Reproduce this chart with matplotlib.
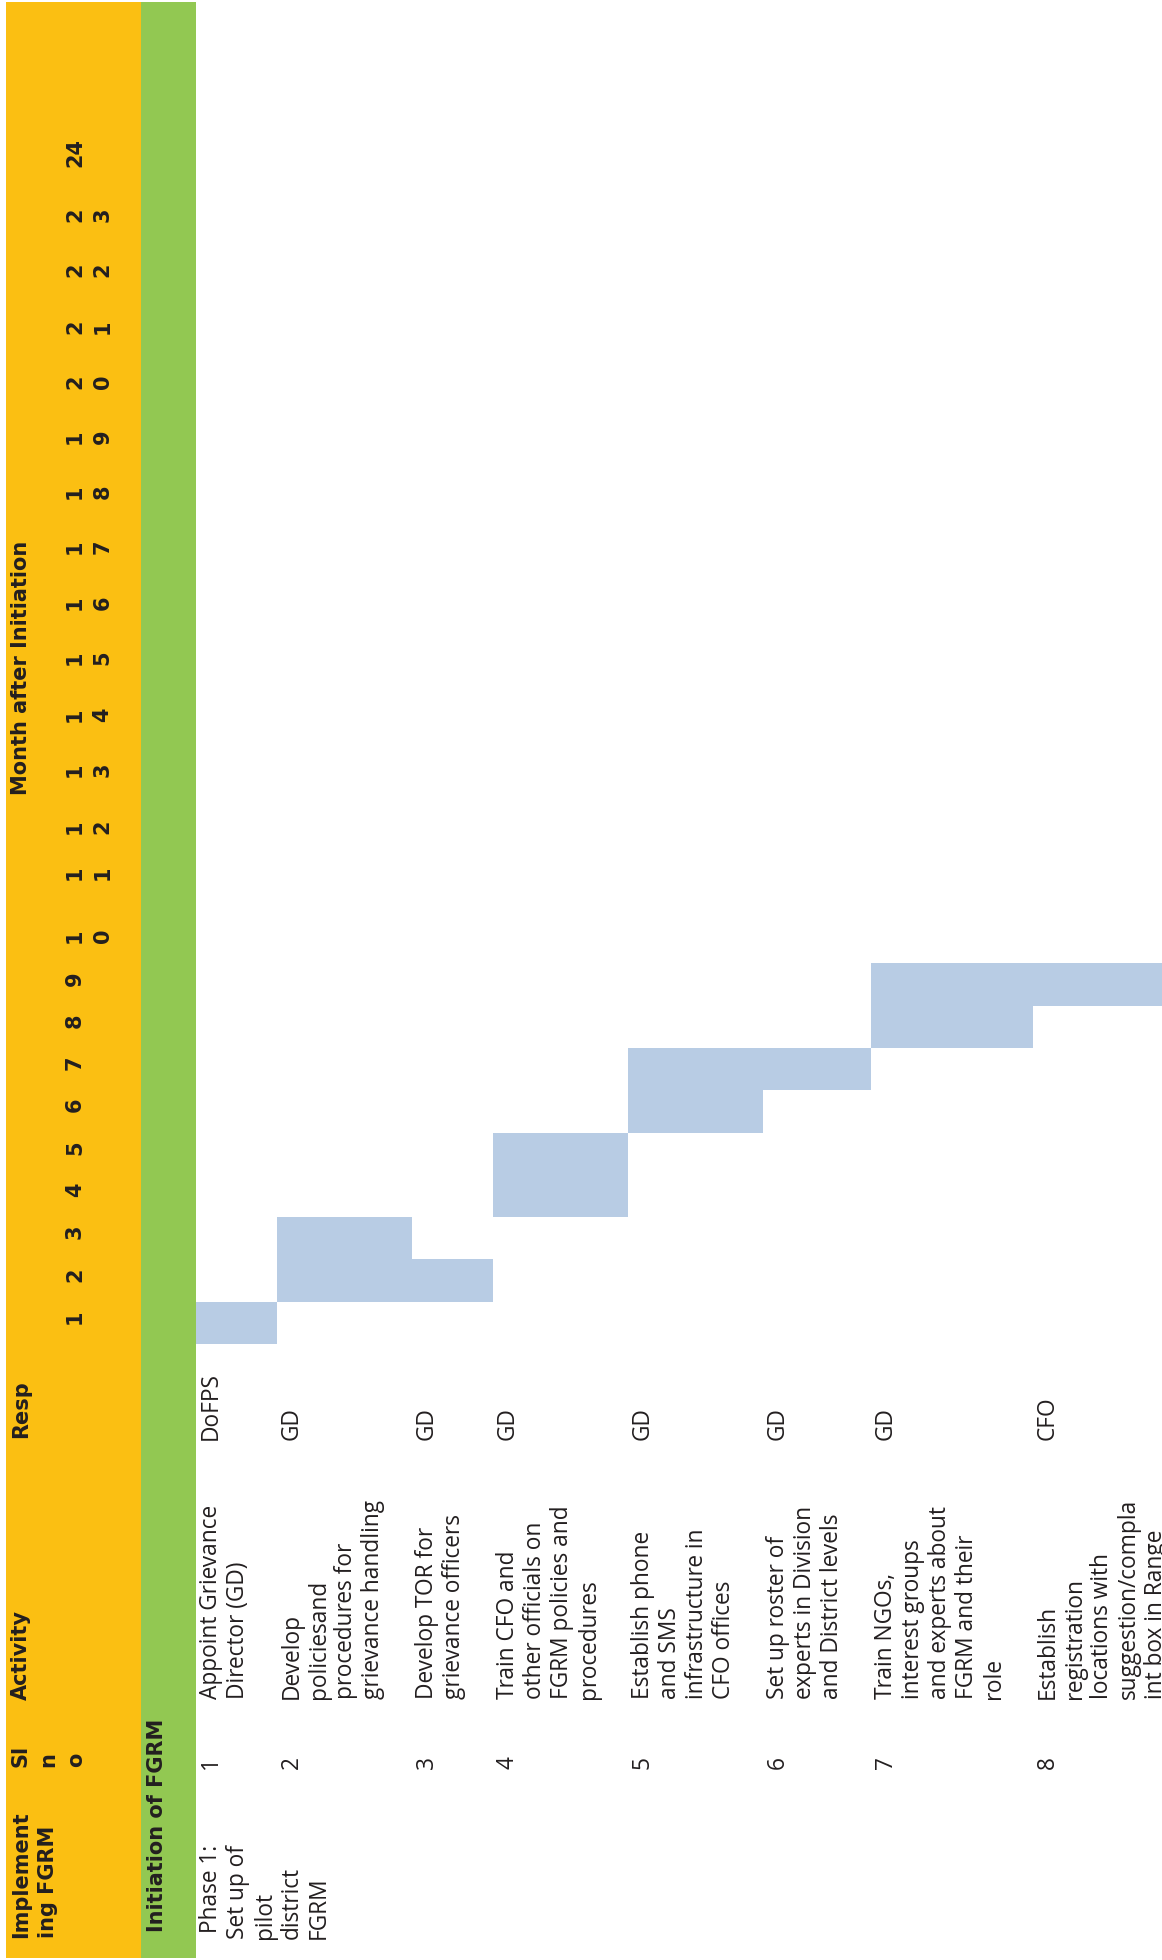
import matplotlib.pyplot as plt
from matplotlib import font_manager as fm
from matplotlib.patches import Rectangle

# ---- chart data ----
header_cols = ["Implement\ning FGRM", "Sl\nn\no", "Activity", "Resp"]
month_title = "Month after Initiation"
months = list(range(1, 25))
section_label = "Initiation of FGRM"
phase_label = " Phase 1:\nSet up of\npilot\ndistrict\nFGRM"
sl_no = [1, 2, 3, 4, 5, 6, 7, 8]
activities = [
    "Appoint Grievance\nDirector (GD)",
    "Develop\npoliciesand\nprocedures for\ngrievance handling",
    "Develop TOR for\ngrievance officers",
    "Train CFO and\nother officials on\nFGRM policies and\nprocedures",
    "Establish phone\nand SMS\ninfrastructure in\nCFO offices",
    "Set up roster of\nexperts in Division\nand District levels",
    "Train NGOs,\ninterest groups\nand experts about\nFGRM and their\nrole",
    "Establish\nregistration\nlocations with\nsuggestion/compla\nint box in Range",
]
resp = ["DoFPS", "GD", "GD", "GD", "GD", "GD", "GD", "CFO"]
start_month = [1, 2, 2, 4, 6, 7, 8, 9]
end_month = [1, 3, 2, 5, 7, 7, 9, 9]

# ---- layout (pixels, the page is rotated 90 deg) ----
W, H = 1162, 1960
ORANGE = "#FBBF12"
GREEN = "#92C852"
BAR = "#B8CCE4"
TXT = "#231F20"
LINE = 27.0
ROW0 = 196
M1_BOTTOM = 1344
month_widths = [42.3] * 10 + [63, 46, 57, 55, 57, 55, 56, 55, 55, 55, 55, 57, 55, 63]

fig = plt.figure(figsize=(W / 100, H / 100), dpi=100)
ax = fig.add_axes([0, 0, 1, 1])
ax.set_xlim(0, W)
ax.set_ylim(H, 0)
ax.axis("off")

# static Open Sans Regular (the variable font renders too narrow)
os_file = [f.fname for f in fm.fontManager.ttflist if f.fname.endswith("OpenSans-Regular.ttf")]
if os_file:
    body_fp = fm.FontProperties(fname=os_file[0])
else:
    body_fp = fm.FontProperties(family="Open Sans")

# size body text so that a long line matches the reference length
r = fig.canvas.get_renderer()
probe = ax.text(0, 0, "grievance handling", fontproperties=body_fp, size=10)
w10 = probe.get_window_extent(r).width
probe.remove()
body_fp.set_size(10 * 215 / w10 * 0.93)

head = dict(family="DejaVu Sans", weight="bold", size=15, color=TXT)


def put_lines(x0, y0, text, step=LINE, ha="left", **kw):
    # one text object per line, baseline at x0 + j*step, reading upwards
    for j, line in enumerate(text.split("\n")):
        ax.text(x0 + j * step, y0, line, rotation=90, rotation_mode="anchor",
                ha=ha, va="baseline", **kw)


# background bands
ax.add_patch(Rectangle((6, 2), 135, 1956, color=ORANGE, lw=0))
ax.add_patch(Rectangle((141, 2), 55, 1956, color=GREEN, lw=0))

# month column edges (image y)
edges = [M1_BOTTOM]
for w in month_widths:
    edges.append(edges[-1] - w)

# row extents (image x)
row_left, row_w = [], []
x = ROW0
for a in activities:
    h = LINE * (a.count("\n") + 2)
    row_left.append(x)
    row_w.append(h)
    x += h

# gantt bars
for i in range(len(activities)):
    top = edges[end_month[i]]
    bot = edges[start_month[i] - 1]
    ax.bar(row_left[i], bot - top, width=row_w[i], bottom=top, align="edge",
           color=BAR, lw=0)

# header
put_lines(27, 1938, header_cols[0], step=26.5, **head)
put_lines(27, 1767, header_cols[1], step=27.5, **head)
put_lines(27, 1700, header_cols[2], **head)
put_lines(27, 1438, header_cols[3], **head)
put_lines(27, 795, month_title, **head)
for k, m in enumerate(months):
    yc = edges[k + 1] + 15
    lab = str(m)
    if 10 <= m < 24:
        lab = "\n".join(lab)
    put_lines(81, yc, lab, step=27.5, ha="center", **head)

put_lines(163, 1932, section_label, **head)

# body
put_lines(row_left[0] + 21, 1939, phase_label, fontproperties=body_fp, color=TXT)
for i in range(len(activities)):
    bx = row_left[i] + 21
    put_lines(bx, 1769, str(sl_no[i]), fontproperties=body_fp, color=TXT)
    put_lines(bx, 1699, activities[i], fontproperties=body_fp, color=TXT)
    put_lines(bx, 1440, resp[i], fontproperties=body_fp, color=TXT)

fig.savefig("out.png", dpi=100)
